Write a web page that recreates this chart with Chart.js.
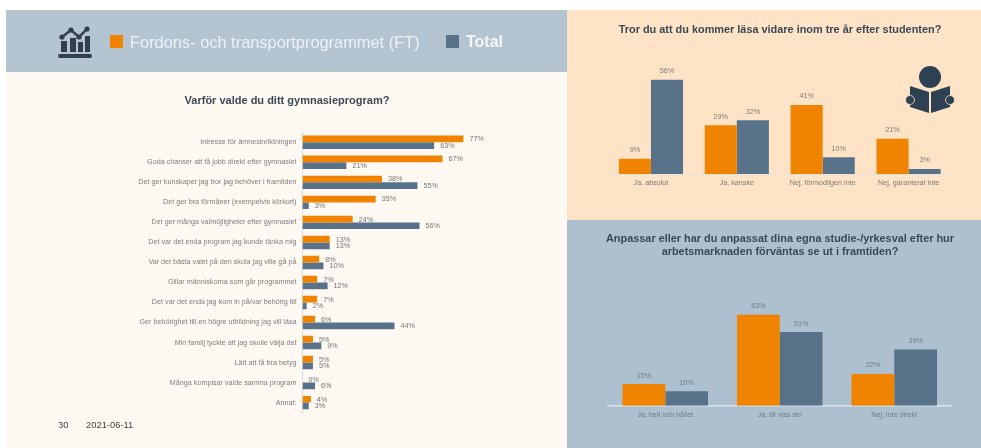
<!DOCTYPE html>
<html lang="sv">
<head>
<meta charset="utf-8">
<title>Fordons- och transportprogrammet</title>
<script src="https://cdn.jsdelivr.net/npm/chart.js@4"></script>
<style>
  html, body { margin: 0; padding: 0; background: #fff; overflow: hidden; }
  body { width: 981px; height: 448px; position: relative; font-family: "Liberation Sans", Arial, sans-serif; }
  .panel, canvas, .txt, .sq, svg { position: absolute; }
  .txt { white-space: nowrap; transform: translateY(-50%); }
  .titel { font-weight: bold; color: #3b4956; text-align: center; transform: translate(-50%, -50%); }
  canvas, .txt, svg { filter: blur(0.3px); }
</style>
</head>
<body>
  <div class="panel" style="left:6px;top:10px;width:561px;height:62px;background:#b4c4d1"></div>
  <div class="panel" style="left:6px;top:72px;width:561px;height:376px;background:#fff9f4"></div>
  <div class="panel" style="left:567px;top:10px;width:414px;height:210px;background:#fee3c6"></div>
  <div class="panel" style="left:567px;top:220px;width:414px;height:228px;background:#adc0cf"></div>

  <!-- ikon diagram -->
  <svg style="left:58px;top:25px" width="34" height="34" viewBox="0 0 34 34">
    <rect x="0" y="29" width="34" height="4" rx="2" fill="#323f4b"/>
    <rect x="3" y="16" width="6" height="11" fill="#323f4b"/>
    <rect x="12" y="13" width="6" height="14" fill="#323f4b"/>
    <rect x="20" y="17" width="5" height="10" fill="#323f4b"/>
    <rect x="27" y="11" width="5" height="16" fill="#323f4b"/>
    <polyline points="4,12 13,5 21,12 29,4" fill="none" stroke="#323f4b" stroke-width="2.4"/>
    <circle cx="13" cy="5" r="2.6" fill="#323f4b"/><circle cx="29" cy="4" r="2.6" fill="#323f4b"/>
    <circle cx="4" cy="12" r="2.6" fill="#323f4b"/><circle cx="21" cy="12" r="2.6" fill="#323f4b"/>
  </svg>

  <!-- ikon bok -->
  <svg style="left:905px;top:65px" width="50" height="50" viewBox="0 0 50 50">
    <circle cx="25" cy="12" r="11" fill="#2e4152"/>
    <path d="M5 21 L24 27 L24 48 L5 42 Z" fill="#2e4152"/>
    <path d="M45 21 L26 27 L26 48 L45 42 Z" fill="#2e4152"/>
    <circle cx="5" cy="35" r="4.5" fill="#2e4152" stroke="#fee3c6" stroke-width="0.8"/>
    <circle cx="45" cy="35" r="4.5" fill="#2e4152" stroke="#fee3c6" stroke-width="0.8"/>
  </svg>

  <!-- legend -->
  <div class="sq" style="left:110px;top:35px;width:13px;height:13px;background:#f08300"></div>
  <div class="txt" style="left:130px;top:42px;font-size:16.4px;color:#eef2f5">Fordons- och transportprogrammet (FT)</div>
  <div class="sq" style="left:446px;top:35px;width:13px;height:13px;background:#587389"></div>
  <div class="txt" style="left:466px;top:42px;font-size:16px;font-weight:bold;color:#f4f6f8">Total</div>

  <div class="txt titel" style="left:287px;top:100px;font-size:11px">Varför valde du ditt gymnasieprogram?</div>
  <div class="txt titel" style="left:780px;top:29px;font-size:10.9px">Tror du att du kommer läsa vidare inom tre år efter studenten?</div>
  <div class="txt titel" style="left:780px;top:245px;font-size:10.9px;line-height:13.4px">Anpassar eller har du anpassat dina egna studie-/yrkesval efter hur<br>arbetsmarknaden förväntas se ut i framtiden?</div>

  <div class="txt" style="left:58px;top:424px;font-size:9.4px;color:#3f3f3f">30</div>
  <div class="txt" style="left:86px;top:424px;font-size:9.4px;color:#3f3f3f">2021-06-11</div>

  <canvas id="chartVarfor" width="561" height="305" style="left:6px;top:120px"></canvas>
  <canvas id="chartLasa" width="414" height="210" style="left:567px;top:10px"></canvas>
  <canvas id="chartAnpassa" width="414" height="228" style="left:567px;top:220px"></canvas>

<script>
// Serier
const serieFT = 'Fordons- och transportprogrammet (FT)';
const serieTotal = 'Total';
const ORANGE = '#f08300';
const BLA = '#587389';

// Varför valde du ditt gymnasieprogram?
const varforKategorier = [
  'Intresse för ämnesinriktningen',
  'Goda chanser att få jobb direkt efter gymnasiet',
  'Det ger kunskaper jag tror jag behöver i framtiden',
  'Det ger bra förmåner (exempelvis körkort)',
  'Det ger många valmöjligheter efter gymnasiet',
  'Det var det enda program jag kunde tänka mig',
  'Var det bästa valet på den skola jag ville gå på',
  'Gillar människorna som går programmet',
  'Det var det enda jag kom in på/var behörig till',
  'Ger behörighet till en högre utbildning jag vill läsa',
  'Min familj tyckte att jag skulle välja det',
  'Lätt att få bra betyg',
  'Många kompisar valde samma program',
  'Annat:'
];
const varforFT = [77, 67, 38, 35, 24, 13, 8, 7, 7, 6, 5, 5, 0, 4];
const varforTotal = [63, 21, 55, 3, 56, 13, 10, 12, 2, 44, 9, 5, 6, 3];

// Tror du att du kommer läsa vidare...
const lasaKategorier = ['Ja, absolut', 'Ja, kanske', 'Nej, förmodligen inte', 'Nej, garanterat inte'];
const lasaFT = [9, 29, 41, 21];
const lasaTotal = [56, 32, 10, 3];

// Anpassar eller har du anpassat...
const anpassaKategorier = ['Ja, helt och hållet', 'Ja, till viss del', 'Nej, inte direkt'];
const anpassaFT = [15, 63, 22];
const anpassaTotal = [10, 51, 39];

// skriver procenttalen vid staplarna
const etiketter = {
  id: 'etiketter',
  afterDatasetsDraw(chart, args, opts) {
    const ctx = chart.ctx;
    const liggande = chart.options.indexAxis === 'y';
    ctx.save();
    ctx.font = '7.2px "Liberation Sans", Arial, sans-serif';
    ctx.fillStyle = opts.color;
    ctx.textBaseline = 'middle';
    ctx.textAlign = liggande ? 'left' : 'center';
    chart.data.datasets.forEach((ds, i) => {
      chart.getDatasetMeta(i).data.forEach((el, j) => {
        const text = ds.data[j] + '%';
        if (liggande) ctx.fillText(text, el.x + 6, el.y + 0.5);
        else ctx.fillText(text, el.x, el.y - 8.5);
      });
    });
    ctx.restore();
  }
};

function dataset(label, data, color) {
  return { label: label, data: data, backgroundColor: color, categoryPercentage: 1, barPercentage: 1 };
}

// Liggande diagram till vänster
new Chart(document.getElementById('chartVarfor').getContext('2d'), {
  type: 'bar',
  plugins: [etiketter],
  data: {
    labels: varforKategorier,
    datasets: [
      { ...dataset(serieFT, varforFT, ORANGE), categoryPercentage: 0.67 },
      { ...dataset(serieTotal, varforTotal, BLA), categoryPercentage: 0.67 }
    ]
  },
  options: {
    indexAxis: 'y',
    responsive: false,
    animation: false,
    layout: { padding: { top: 12.3, bottom: 12.4, right: 55.5 } },
    plugins: {
      legend: { display: false },
      tooltip: { enabled: false },
      etiketter: { color: '#747474' }
    },
    scales: {
      x: { display: false, min: 0, max: 100 },
      y: {
        afterFit: s => { s.width = 296.5; },
        grid: { display: false, drawTicks: false },
        border: { color: '#d9d9d9' },
        ticks: { autoSkip: false, padding: 6, color: '#7e7e7e', font: { family: '"Liberation Sans"', size: 7.2 } }
      }
    }
  }
});

// Stående diagram till höger
function staende(id, kategorier, ft, total, ymax, opts) {
  new Chart(document.getElementById(id).getContext('2d'), {
    type: 'bar',
    plugins: [etiketter],
    data: {
      labels: kategorier,
      datasets: [
        { ...dataset(serieFT, ft, ORANGE), categoryPercentage: 0.747 },
        { ...dataset(serieTotal, total, BLA), categoryPercentage: 0.747 }
      ]
    },
    options: {
      responsive: false,
      animation: false,
      layout: { padding: { top: opts.top, left: 41, right: 29.5 } },
      plugins: {
        legend: { display: false },
        tooltip: { enabled: false },
        etiketter: { color: opts.etikett }
      },
      scales: {
        y: { display: false, min: 0, max: ymax },
        x: {
          afterFit: s => { s.height = opts.axel; },
          grid: { display: false, drawTicks: false },
          border: { color: opts.linje, width: opts.linjebredd },
          ticks: { padding: 5, maxRotation: 0, color: opts.etikett, font: { family: '"Liberation Sans"', size: 7.2 } }
        }
      }
    }
  });
}

staende('chartLasa', lasaKategorier, lasaFT, lasaTotal, 60,
  { top: 63, axel: 46, etikett: '#7f7a74', linje: '#e6e3dc', linjebredd: 1 });
staende('chartAnpassa', anpassaKategorier, anpassaFT, anpassaTotal, 70,
  { top: 84.7, axel: 42.3, etikett: '#727a82', linje: '#dde3e8', linjebredd: 1.5 });
</script>
</body>
</html>
